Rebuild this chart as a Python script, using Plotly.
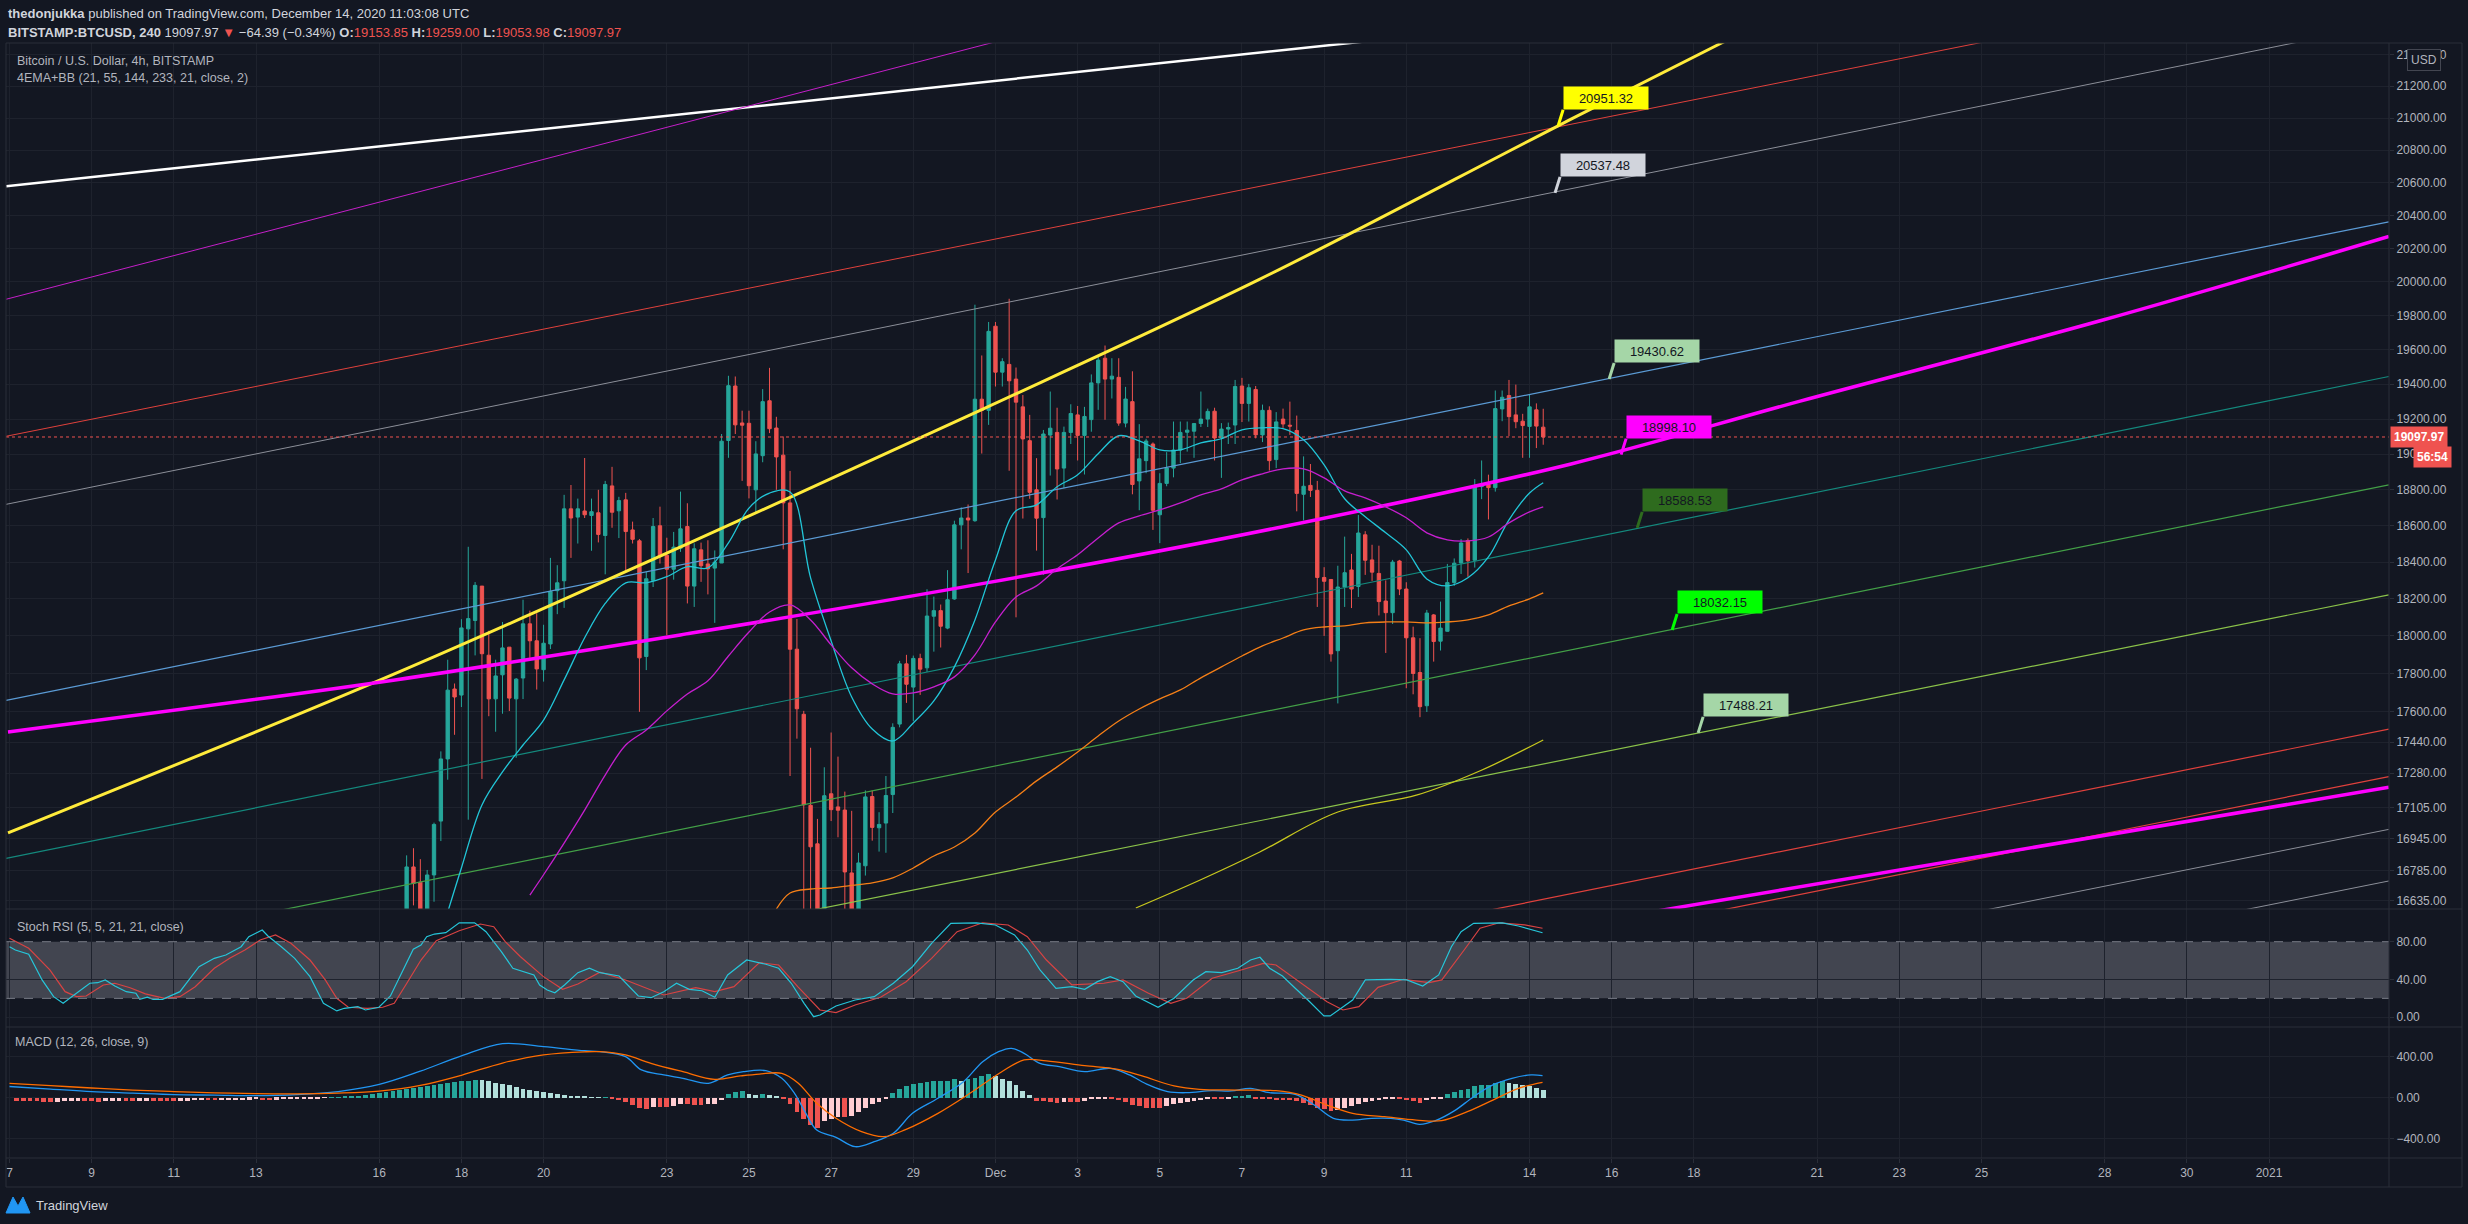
import numpy as np
import pandas as pd
import plotly.graph_objects as go

W, H = 2468, 1224
BG = "#131722"
GRID = "#1e222d"
BORDER = "#2a2e39"
TXT = "#b2b5be"
FONT = "Liberation Sans, Arial, sans-serif"
UP, DN = "#26a69a", "#ef5350"

def px(x):
    return x / W

def py(y):
    return 1 - y / H

MAIN = [py(909), py(43)]
STOCH = [py(1027), py(909)]
MACD = [py(1158), py(1027)]
XDOM = [px(6), px(2389)]

BASE = pd.Timestamp("2020-11-07")

def bar_time(k):
    return BASE + pd.to_timedelta(np.asarray(k, dtype=float) * 4, unit="h")

X_RANGE = ["2020-11-06 21:57", "2021-01-03 22:06"]

# ---------------- candles (4h, first bar 2020-11-16 16:00) ----------------
candle_start = "2020-11-16 16:00"
opens = [16560, 16804, 16728, 16560, 16764, 17035, 17353, 17718, 17686, 18038,
         18083, 18269, 17897, 17666, 17793, 17940, 17666, 17776, 18065, 17974,
         17820, 17957, 18244, 18298, 18694, 18648, 18682, 18657, 18672, 18546,
         18822, 18683, 18744, 18577, 18517, 17890, 18300, 18600, 18437, 18361,
         18476, 18596, 18269, 18467, 18390, 18367, 18395, 19078, 19390, 19178,
         19176, 18800, 18992, 19305, 19149, 18995, 18727, 17929, 17585, 17115,
         16920, 16450, 17174, 17107, 17091, 16774, 16550, 16810, 17160, 17001,
         17025, 17170, 17534, 17851, 17728, 17880, 17830, 18106, 18136, 18042,
         18199, 18605, 18643, 18628, 19314, 19250, 19738, 19470, 19515, 19430,
         19270, 19077, 18800, 18645, 19109, 19124, 18922, 19124, 19224, 19107,
         19197, 19408, 19551, 19430, 19440, 19177, 19300, 18850, 18964, 19058,
         18661, 18836, 18922, 19024, 19125, 19131, 19175, 19200, 19245, 19092,
         19143, 19166, 19390, 19290, 19370, 19110, 19250, 18970, 19200, 19165,
         19135, 18775, 18825, 18797, 18316, 18305, 17921, 18264, 18357, 18267,
         18550, 18412, 18338, 18188, 18125, 18406, 18253, 17990, 17805, 17630,
         18113, 17972, 18025, 18288, 18395, 18518, 18410, 18818, 18830, 18812,
         19258, 19335, 19224, 19188, 19158, 19253, 19153.85]
highs = [16862, 16898, 16843, 16789, 17027, 17392, 17873, 17747, 18090, 18484,
         18291, 18269, 18028, 17873, 18075, 17940, 17776, 18195, 18136, 18122,
         18060, 18423, 18383, 18772, 18827, 18751, 18979, 18751, 18800, 18850,
         18929, 18761, 18783, 18623, 18527, 18347, 18643, 18706, 18534, 18566,
         18790, 18725, 18503, 18507, 18520, 18464, 19115, 19449, 19445, 19248,
         19248, 19074, 19372, 19495, 19213, 19101, 18906, 18091, 17603, 17411,
         17046, 17310, 17490, 17365, 17185, 17087, 16875, 17191, 17191, 17080,
         17265, 17538, 17867, 17899, 17895, 17905, 18252, 18212, 18169, 18356,
         18628, 18702, 18718, 19865, 19567, 19763, 19763, 19551, 19900, 19497,
         19338, 19224, 18978, 19138, 19358, 19265, 19157, 19285, 19275, 19270,
         19457, 19560, 19625, 19551, 19551, 19385, 19475, 19171, 19088, 19067,
         18893, 19012, 19186, 19186, 19186, 19177, 19358, 19260, 19265, 19177,
         19180, 19425, 19437, 19402, 19390, 19283, 19273, 19240, 19260, 19300,
         19220, 18988, 18945, 18850, 18372, 18305, 18380, 18540, 18445, 18660,
         18570, 18495, 18490, 18300, 18412, 18412, 18290, 18050, 17988, 18140,
         18118, 18185, 18390, 18420, 18527, 18530, 18860, 18965, 18885, 19364,
         19364, 19425, 19398, 19230, 19340, 19290, 19259.00]
lows = [16450, 16613, 16480, 16500, 16631, 16934, 17246, 17478, 17623, 17042,
        17896, 17250, 17575, 17494, 17588, 17602, 17359, 17665, 17883, 17715,
        17757, 17930, 18117, 18151, 18423, 18502, 18643, 18462, 18508, 18333,
        18589, 18532, 18353, 18502, 17598, 17818, 18264, 18392, 18003, 18304,
        18456, 18175, 18156, 18292, 18224, 18070, 18395, 18980, 19115, 18850,
        18752, 18667, 18955, 19120, 18800, 18470, 17265, 17458, 16400, 16560,
        16300, 16200, 17035, 16953, 16560, 16400, 16450, 16761, 16936, 16881,
        16875, 17076, 17517, 17645, 17549, 17687, 17808, 17916, 17938, 18036,
        18195, 18470, 18340, 18622, 19004, 19167, 19387, 19387, 18907, 18100,
        18640, 18750, 18463, 18330, 18880, 18746, 18809, 19058, 18965, 18886,
        19128, 19253, 19196, 19318, 19162, 19153, 18775, 18686, 18893, 18577,
        18504, 18820, 18870, 18950, 19015, 18980, 19155, 19155, 18965, 18867,
        19058, 19058, 19183, 19186, 19090, 19069, 18908, 18922, 19150, 19110,
        18680, 18630, 18760, 18156, 18000, 17863, 17642, 18156, 18150, 18210,
        18330, 18297, 18110, 17909, 18064, 18220, 17722, 17690, 17570, 17597,
        17863, 17922, 18023, 18270, 18335, 18320, 18370, 18748, 18635, 18790,
        19188, 19103, 19148, 18980, 18980, 19035, 19053.98]
closes = [16804, 16722, 16560, 16764, 17018, 17353, 17712, 17676, 18043, 18093,
          18273, 17905, 17666, 17787, 17936, 17670, 17770, 18065, 17974, 17824,
          17961, 18240, 18287, 18694, 18643, 18694, 18661, 18678, 18552, 18830,
          18675, 18740, 18568, 18525, 17883, 18309, 18596, 18432, 18361, 18482,
          18583, 18269, 18473, 18380, 18363, 18400, 19074, 19392, 19167, 19165,
          18823, 19002, 19300, 19145, 18985, 18727, 17929, 17614, 17118, 16905,
          16500, 17164, 17093, 17090, 16779, 16550, 16824, 17158, 17003, 17018,
          17165, 17517, 17851, 17743, 17880, 17823, 18107, 18136, 18052, 18195,
          18605, 18643, 18632, 19314, 19250, 19708, 19470, 19531, 19420, 19297,
          19087, 18786, 18642, 19115, 19148, 18917, 19124, 19232, 19107, 19215,
          19408, 19540, 19430, 19447, 19177, 19315, 18830, 18974, 19075, 18686,
          18836, 18922, 19024, 19124, 19137, 19175, 19200, 19244, 19092, 19143,
          19152, 19387, 19290, 19380, 19110, 19250, 18964, 19184, 19172, 19160,
          18780, 18820, 18797, 18316, 18295, 17904, 18264, 18342, 18253, 18560,
          18410, 18345, 18185, 18125, 18400, 18253, 17990, 17800, 17625, 18123,
          17970, 18042, 18288, 18394, 18505, 18407, 18820, 18832, 18812, 19260,
          19325, 19214, 19185, 19163, 19270, 19160, 19097.97]
last_price = 19097.97

# ---------------- EMAs (k = 4h bars since 2020-11-07) ----------------
ema21_k = [64, 66, 69, 72, 75, 78, 81, 84, 87, 90, 93, 96, 99, 102, 105, 108, 111, 114,
           117, 120, 123, 126, 129, 132, 135, 138, 141, 144, 147, 150, 153, 156, 159,
           162, 165, 168, 171, 174, 177, 180, 183, 186, 189, 192, 195, 198, 201, 204,
           207, 210, 213, 216, 219, 222, 224]
ema21_v = [16580, 16799, 17117, 17286, 17425, 17555, 17766, 17990, 18175, 18287, 18287,
           18320, 18375, 18368, 18506, 18698, 18782, 18788, 18314, 17973, 17676, 17508,
           17446, 17540, 17655, 17835, 18086, 18412, 18683, 18716, 18817, 18884, 19003,
           19105, 19076, 19025, 19025, 19065, 19088, 19139, 19150, 19145, 19082, 18940,
           18750, 18650, 18561, 18467, 18308, 18270, 18314, 18428, 18633, 18782, 18840]
ema55_k = [76, 78, 81, 84, 87, 90, 93, 96, 99, 102, 105, 108, 111, 114, 117, 120, 123,
           126, 129, 132, 135, 138, 141, 144, 147, 150, 153, 156, 159, 162, 165, 168,
           171, 174, 177, 180, 183, 186, 189, 192, 195, 198, 201, 204, 207, 210, 213,
           216, 219, 222, 224]
ema55_v = [16664, 16765, 16924, 17091, 17270, 17425, 17503, 17603, 17692, 17761, 17893,
           18021, 18129, 18167, 18086, 17952, 17830, 17745, 17692, 17697, 17729, 17782,
           17899, 18075, 18210, 18270, 18363, 18440, 18533, 18616, 18655, 18688, 18727,
           18772, 18805, 18856, 18890, 18918, 18918, 18867, 18794, 18755, 18705, 18644,
           18561, 18522, 18516, 18538, 18616, 18677, 18705]
ema144_k = [112, 114, 117, 120, 123, 126, 129, 132, 135, 138, 141, 144, 147, 150, 153,
            156, 159, 162, 165, 168, 171, 174, 177, 180, 183, 186, 189, 192, 195, 198,
            201, 204, 207, 210, 213, 216, 219, 222, 224]
ema144_v = [16595, 16674, 16694, 16699, 16712, 16724, 16749, 16799, 16859, 16904, 16975,
            17081, 17157, 17240, 17312, 17389, 17472, 17550, 17613, 17666, 17713, 17777,
            17835, 17893, 17947, 17989, 18032, 18048, 18054, 18070, 18075, 18075, 18070,
            18075, 18086, 18113, 18162, 18200, 18232]
ema233_k = [164.5, 173.9, 182.6, 194, 205.6, 214.8, 224]
ema233_v = [16600, 16739, 16879, 17081, 17168, 17292, 17451]

# ---------------- drawn trend lines (anchor time, anchor price) ----------------
T_L, T_R = "2020-11-06 22:00", "2021-01-03 22:00"
lines = [
    ("white", [T_L, T_R], [20578, 22193], "#ffffff", 2.5),
    ("mag_top", [T_L, T_R], [19897, 23930], "#c51fc9", 1),
    ("red_top", [T_L, T_R], [19102, 22003], "#e0413c", 1),
    ("gray", [T_L, T_R], [18719, 21597], "#8c8f99", 1),
    ("blue", [T_L, T_R], [17658, 20361], "#5b9bd5", 1.2),
    ("teal", [T_L, T_R], [16847, 19445], "#14897d", 1.2),
    ("greenA", [T_L, T_R], [16318, 18828], "#43a047", 1.2),
    ("greenB", [T_L, T_R], [15812, 18221], "#8bc34a", 1.2),
    ("red_low1", [T_L, T_R], [15178, 17508], "#e0413c", 1.2),
    ("red_low2", [T_L, T_R], [14978, 17262], "#e0413c", 1.2),
    ("mag_low", [T_L, T_R], [15263, 17207], "#ff00ff", 3.5),
    ("gray_low1", [T_L, T_R], [14746, 16993], "#8c8f99", 1),
    ("gray_low2", [T_L, T_R], [14520, 16734], "#8c8f99", 1),
]
yellow_t = ["2020-11-06 23:07", "2020-11-16 09:12", "2020-11-23 13:36", "2020-11-30 17:54",
            "2020-12-07 09:36", "2020-12-14 16:42", "2020-12-18 15:18", "2020-12-19 14:42"]
yellow_p = [16975, 17799, 18507, 19263, 20012, 20951.32, 21469, 21603]
magenta_t = ["2020-11-06 23:07", "2020-11-16 09:12", "2020-11-23 13:36", "2020-11-30 17:54",
             "2020-12-07 22:18", "2020-12-14 23:42", "2020-12-20 14:06", "2020-12-27 21:24",
             "2021-01-03 22:00"]
magenta_p = [17493, 17766, 18014, 18285, 18592, 18944, 19303, 19770, 20272]

callouts = [
    ("2020-12-14 16:42", 20951.32, "#ffff00", "#131722"),
    ("2020-12-14 14:54", 20537.48, "#d1d4dc", "#131722"),
    ("2020-12-15 22:30", 19430.62, "#a5d6a7", "#131722"),
    ("2020-12-16 05:30", 18998.10, "#ff00ff", "#131722"),
    ("2020-12-16 14:54", 18588.53, "#2e6b1e", "#131722"),
    ("2020-12-17 11:18", 18032.15, "#00ff00", "#131722"),
    ("2020-12-18 02:30", 17488.21, "#a5d6a7", "#131722"),
]

# ---------------- Stoch RSI ----------------
stk_k = [0, 0.85, 2.8, 4.76, 6.44, 7.83, 9.23, 11.74, 12.87, 13.98, 15.38, 17.06, 18.46,
         19.02, 20.13, 20.97, 22.36, 24.89, 27.68, 29.91, 31.59, 33.83, 34.95, 36.91,
         37.74, 39.7, 41.65, 43.89, 45.85, 47.8, 48.91, 50.87, 51.99, 53.95, 55.63, 57.3,
         58.97, 60.1, 60.93, 62.06, 63.72, 65.68, 67.93, 69.59, 71.83, 73.51, 75.19,
         76.59, 77.42, 78.54, 79.65, 81.06, 83.01, 84.69, 86.24, 89.03, 91.84, 93.69,
         95.56, 97.42, 99.28, 101.14, 103.01, 104.88, 107.67, 110.46, 112.33, 114.18,
         116.05, 117.44, 118.37, 120.71, 123.5, 126.29, 129.09, 131.88, 134.67, 137.48,
         141.2, 143.99, 146.78, 148.65, 150.5, 152.84, 155.16, 157.03, 158.89, 160.76,
         162.63, 164.48, 167.74, 170.08, 172.87, 174.73, 177.06, 179.39, 181.25, 182.63,
         184.04, 185.91, 187.78, 189.63, 191.97, 192.89, 196.16, 198.01, 201.74, 204.07,
         206.4, 208.73, 210.59, 212, 213.84, 216.17, 218.04, 220.37, 223.9]
stk_v = [74.7, 71.2, 66.7, 39.5, 21.8, 14.8, 22.5, 36, 36.6, 39.5, 33.1, 27.1, 25.4, 19,
         21.2, 19, 19, 27.1, 53.5, 62.4, 65.9, 74.7, 85.3, 92.4, 86, 74.7, 62.4, 43, 14.8,
         6.7, 9.5, 11.2, 7.7, 10.6, 22.5, 46.6, 72, 76.5, 85.3, 88.1, 89.5, 100, 100, 90.6,
         69.4, 51.9, 48.3, 44.8, 34.2, 28.9, 26, 34.2, 47.2, 51.9, 47.2, 43.7, 22.5, 20.7,
         27.1, 36, 29.6, 28.1, 21.2, 44.8, 60.6, 56.1, 51.9, 36, 14.8, 0.6, 2.4, 12, 18.3,
         21.8, 36, 53.5, 78.3, 99.4, 100, 97.7, 87.1, 71.2, 50.1, 30.7, 32.4, 29.6, 37.7,
         43, 37.7, 22.5, 10.6, 20.1, 39.5, 48.3, 47.2, 51.9, 60.6, 63.5, 51.9, 43.7, 30.7,
         18.3, 1.4, 1.4, 18.3, 39.5, 40.2, 39.5, 33.1, 44.8, 74.7, 90.6, 99.4, 99.4, 100,
         96.6, 89.5]
std_k = [0, 2.8, 5.89, 8.12, 9.79, 11.19, 13.7, 15.38, 17.61, 19.85, 22.65, 24.89, 27.12,
         29.91, 32.15, 34.38, 36.61, 38.85, 41.1, 43.89, 46.12, 47.8, 49.48, 52.27, 54.51,
         56.19, 57.87, 60.1, 62.33, 65.68, 68.76, 70.72, 72.4, 74.63, 77.98, 80.78, 83.01,
         86.24, 89.97, 95.56, 100.22, 103.01, 105.81, 109.52, 112.33, 115.12, 118.37,
         120.71, 123.5, 127.22, 130.95, 134.67, 138.4, 142.13, 145.86, 148.65, 151.44,
         155.16, 159.82, 162.63, 166.35, 169.61, 171.93, 175.65, 179.39, 183.11, 184.97,
         188.69, 192.42, 194.75, 197.08, 199.87, 203.6, 207.33, 209.19, 212.45, 214.77,
         217.57, 221.29, 223.9]
std_v = [83.6, 73, 50.1, 27.1, 21.8, 22.5, 34.2, 36, 31.3, 24.7, 20.1, 21.8, 32.4, 51.9,
         62.4, 71.2, 81.8, 87.1, 78.3, 60.6, 39.5, 20.1, 10.6, 9.5, 10.6, 14.8, 34.2, 60.6,
         81.1, 91.6, 98.7, 95.9, 80, 64.1, 43, 29.6, 35.2, 47.8, 39.5, 23.6, 31.3, 27.1,
         32.4, 57.8, 55.3, 32.4, 7.7, 4.9, 13, 21.2, 37.7, 62.4, 90.6, 100, 97.7, 85.3,
         60.6, 34.2, 36, 39.5, 25.4, 14.8, 20.1, 41.3, 49, 57.1, 55.3, 36, 16.5, 7.7, 11.2,
         31.7, 40.2, 36.6, 39.5, 71.2, 94.2, 100, 97.7, 94.2]

# ---------------- MACD ----------------
macd_k = [0, 6, 12, 18, 24, 30, 36, 42, 48, 54, 60, 66, 72, 78, 84, 86.24, 89.97, 92.3,
          95.56, 98.35, 102.07, 104.88, 107.2, 110.46, 112.79, 114.65, 116.05, 117.9,
          120.71, 123.5, 126.29, 129.09, 131.88, 135.6, 139.33, 142.13, 144.45, 146.33,
          148.18, 150.5, 153.31, 157.03, 160.76, 163.55, 166.35, 169.14, 171.93, 175.65,
          178.46, 181.25, 184.04, 187.78, 190.57, 193.36, 196.16, 198.95, 201.74, 203.6,
          205.93, 208.26, 211.06, 213.84, 216.65, 219.44, 222.23, 223.9]
macd_v = [110, 85, 60, 45, 30, 25, 20, 30, 60, 130, 260, 410, 530, 500, 460, 451, 402,
          272, 223, 190, 141, 223, 255, 265, 190, 43, -121, -317, -388, -480, -431, -349,
          -153, -6, 157, 353, 451, 484, 435, 337, 304, 255, 288, 223, 125, 59, 49, 69, 66,
          92, 49, 33, -72, -202, -219, -202, -202, -219, -261, -225, -127, 10, 125, 190,
          223, 216]
sig_k = [0, 6, 12, 18, 24, 30, 36, 42, 48, 54, 60, 66, 72, 78, 84, 86.24, 89.97, 93.69,
         98.35, 103.01, 106.73, 109.52, 112.79, 115.12, 117.9, 120.71, 124.44, 127.69,
         130.95, 135.6, 140.27, 144.92, 148.18, 151.44, 157.03, 161.69, 165.42, 170.08,
         173.8, 179.39, 184.97, 188.69, 192.42, 196.16, 200.81, 205.46, 209.19, 212.92,
         216.65, 220.37, 223.9]
sig_v = [140, 118, 95, 75, 60, 48, 40, 38, 45, 65, 120, 220, 340, 420, 450, 451, 419,
         337, 255, 180, 213, 232, 239, 147, -55, -202, -333, -382, -310, -153, 43, 255,
         370, 360, 314, 281, 213, 115, 82, 75, 69, 26, -72, -153, -186, -219, -225, -137,
         -23, 92, 151]
hist_v = [-30, -32, -35, -36, -38, -40, -38, -36, -34, -33,
          -35, -37, -38, -36, -34, -32, -33, -35, -32, -30,
          -30, -31, -32, -33, -30, -28, -25, -23, -24, -26,
          -25, -24, -22, -20, -18, -17, -20, -22, -18, -15,
          -12, -10, -8, -6, -4, -2, 2, 5, 8, 12,
          18, 25, 35, 45, 55, 65, 75, 85, 95, 105,
          115, 125, 135, 145, 155, 162, 168, 172, 170, 160,
          148, 135, 120, 105, 90, 78, 66, 55, 45, 36,
          28, 20, 14, 9, 5, 3,
          3, -16, -26, -42, -72, -98, -108, -88, -88, -88,
          -82, -60, -65, -72, -72, -65, -59, -20, 39, 59,
          65, 33, 23, 39, 26, 7, -16, -65, -137, -213,
          -268, -294, -229, -206, -190, -190, -180, -137, -98, -59,
          -39, -16, 49, 82, 114, 131, 147, 157, 164, 164,
          164, 180, 164, 180, 196, 213, 229, 213, 180, 164,
          124, 65, 26, -33, -33, -39, -56, -46, -46, -46,
          -33, -16, -10, -7, -16, -26, -39, -72, -82, -98,
          -98, -98, -82, -59, -49, -39, -33, -26, -16, -16,
          -16, -10, 10, 16, 26, -7, -10, -16, -26, -26,
          -26, -33, -49, -72, -98, -114, -131, -121, -98, -82,
          -59, -39, -33, -26, -16, -10, -16, -26, -33, -49,
          -26, -16, -7, 33, 56, 72, 82, 114, 121, 124,
          147, 164, 147, 137, 124, 114, 98, 72]
hist_first_k = 1

# ---------------- axis ticks ----------------
price_ticks = [16635, 16785, 16945, 17105, 17280, 17440, 17600, 17800, 18000, 18200, 18400,
               18600, 18800, 19000, 19200, 19400, 19600, 19800, 20000, 20200, 20400, 20600,
               20800, 21000, 21200, 21400]
date_ticks = ["2020-11-07", "2020-11-09", "2020-11-11", "2020-11-13", "2020-11-16",
              "2020-11-18", "2020-11-20", "2020-11-23", "2020-11-25", "2020-11-27",
              "2020-11-29", "2020-12-01", "2020-12-03", "2020-12-05", "2020-12-07",
              "2020-12-09", "2020-12-11", "2020-12-14", "2020-12-16", "2020-12-18",
              "2020-12-21", "2020-12-23", "2020-12-25", "2020-12-28", "2020-12-30",
              "2021-01-01"]
date_labels = ["7", "9", "11", "13", "16", "18", "20", "23", "25", "27", "29", "Dec", "3",
               "5", "7", "9", "11", "14", "16", "18", "21", "23", "25", "28", "30", "2021"]

# ======================= figure =======================
fig = go.Figure()

times = pd.date_range(candle_start, periods=len(opens), freq="4h")

for name, tt, pp, col, wd in lines:
    fig.add_trace(go.Scatter(x=pd.to_datetime(tt), y=pp, mode="lines",
                             line=dict(color=col, width=wd), xaxis="x", yaxis="y",
                             hoverinfo="skip"))
fig.add_trace(go.Scatter(x=pd.to_datetime(yellow_t), y=yellow_p, mode="lines",
                         line=dict(color="#ffeb3b", width=3, shape="spline"),
                         xaxis="x", yaxis="y", hoverinfo="skip"))
fig.add_trace(go.Scatter(x=pd.to_datetime(magenta_t), y=magenta_p, mode="lines",
                         line=dict(color="#ff00ff", width=3.5, shape="spline"),
                         xaxis="x", yaxis="y", hoverinfo="skip"))

for kk, vv, col in [(ema21_k, ema21_v, "#22c6d8"), (ema55_k, ema55_v, "#c61fcf"),
                    (ema144_k, ema144_v, "#f57f17"), (ema233_k, ema233_v, "#c8c81e")]:
    fig.add_trace(go.Scatter(x=bar_time(kk), y=vv, mode="lines",
                             line=dict(color=col, width=1.3, shape="spline"),
                             xaxis="x", yaxis="y", hoverinfo="skip"))

fig.add_trace(go.Candlestick(
    x=times, open=opens, high=highs, low=lows, close=closes,
    increasing=dict(line=dict(color=UP, width=1), fillcolor=UP),
    decreasing=dict(line=dict(color=DN, width=1), fillcolor=DN),
    whiskerwidth=0, xaxis="x", yaxis="y", hoverinfo="skip"))

fig.add_trace(go.Scatter(x=bar_time(std_k), y=std_v, mode="lines",
                         line=dict(color="#d84343", width=1.2),
                         xaxis="x2", yaxis="y2", hoverinfo="skip"))
fig.add_trace(go.Scatter(x=bar_time(stk_k), y=stk_v, mode="lines",
                         line=dict(color="#26c6da", width=1.2),
                         xaxis="x2", yaxis="y2", hoverinfo="skip"))

hist_colors = []
for i, v in enumerate(hist_v):
    prev = hist_v[i - 1] if i > 0 else v
    if v >= 0:
        hist_colors.append(UP if v >= prev else "#b2dfdb")
    else:
        hist_colors.append(DN if v <= prev else "#ffcdd2")
hist_k = np.arange(len(hist_v)) + hist_first_k
fig.add_trace(go.Bar(x=bar_time(hist_k), y=hist_v, marker=dict(color=hist_colors, line=dict(width=0)),
                     width=4 * 3600 * 1000 * 0.7, xaxis="x3", yaxis="y3", hoverinfo="skip"))
fig.add_trace(go.Scatter(x=bar_time(macd_k), y=macd_v, mode="lines",
                         line=dict(color="#2196f3", width=1.3, shape="spline"),
                         xaxis="x3", yaxis="y3", hoverinfo="skip"))
fig.add_trace(go.Scatter(x=bar_time(sig_k), y=sig_v, mode="lines",
                         line=dict(color="#ff6d00", width=1.3, shape="spline"),
                         xaxis="x3", yaxis="y3", hoverinfo="skip"))

axis_common = dict(showline=False, zeroline=False, gridcolor=GRID, gridwidth=1,
                   tickfont=dict(family=FONT, size=12, color=TXT))
xcommon = dict(axis_common, type="date", range=X_RANGE, domain=XDOM,
               tickmode="array", tickvals=date_ticks, ticktext=date_labels, showgrid=True)

fig.update_layout(
    width=W, height=H, margin=dict(l=0, r=0, t=0, b=0),
    paper_bgcolor=BG, plot_bgcolor=BG, showlegend=False, bargap=0,
    font=dict(family=FONT, color=TXT),
    xaxis=dict(xcommon, anchor="y", showticklabels=False, rangeslider=dict(visible=False)),
    xaxis2=dict(xcommon, anchor="y2", showticklabels=False, matches="x"),
    xaxis3=dict(xcommon, anchor="y3", showticklabels=True, ticks="outside", ticklen=4,
                tickcolor=BORDER, matches="x"),
    yaxis=dict(axis_common, type="log", domain=MAIN, side="right", anchor="x",
               range=list(np.log10([16595, 21474])), tickmode="array",
               tickvals=price_ticks, ticktext=[f"{v:.2f}" for v in price_ticks],
               ticks="outside", ticklen=4, tickcolor=BORDER),
    yaxis2=dict(axis_common, domain=STOCH, side="right", anchor="x2", range=[-10.3, 114.6],
                tickmode="array", tickvals=[0, 40, 80], ticktext=["0.00", "40.00", "80.00"],
                ticks="outside", ticklen=4, tickcolor=BORDER),
    yaxis3=dict(axis_common, domain=MACD, side="right", anchor="x3", range=[-591, 693],
                tickmode="array", tickvals=[-400, 0, 400],
                ticktext=["\u2212400.00", "0.00", "400.00"],
                ticks="outside", ticklen=4, tickcolor=BORDER),
)

shapes = []
shapes.append(dict(type="rect", xref="x2 domain", yref="y2", x0=0, x1=1, y0=20, y1=80,
                   fillcolor="rgba(150,152,164,0.36)", line=dict(width=0), layer="below"))
for lvl in (20, 80):
    shapes.append(dict(type="line", xref="x2 domain", yref="y2", x0=0, x1=1, y0=lvl, y1=lvl,
                       line=dict(color="#787b86", width=1, dash="dash")))
shapes.append(dict(type="line", xref="x domain", yref="y", x0=0, x1=1,
                   y0=last_price, y1=last_price, line=dict(color=DN, width=1, dash="dot")))
for yy in (43, 909, 1027, 1158, 1187):
    shapes.append(dict(type="line", xref="paper", yref="paper", x0=px(6), x1=px(2462),
                       y0=py(yy), y1=py(yy), line=dict(color=BORDER, width=1)))
for xx in (6, 2389, 2462):
    shapes.append(dict(type="line", xref="paper", yref="paper", x0=px(xx), x1=px(xx),
                       y0=py(43), y1=py(1187), line=dict(color=BORDER, width=1)))
shapes.append(dict(type="path", xref="paper", yref="paper",
                   path=f"M {px(6)},{py(1213)} L {px(13)},{py(1197)} L {px(18)},{py(1206)} "
                        f"L {px(23)},{py(1197)} L {px(30)},{py(1213)} Z",
                   fillcolor="#2196f3", line=dict(color="#2196f3", width=1)))
fig.update_layout(shapes=shapes)

ann = []
def text(x, y, s, size=12.5, color=TXT, anchor="left", bold=False, **kw):
    ann.append(dict(xref="paper", yref="paper", x=px(x), y=py(y), text=(f"<b>{s}</b>" if bold else s),
                    showarrow=False, xanchor=anchor, yanchor="middle",
                    font=dict(family=FONT, size=size, color=color), **kw))

text(6, 14, "<b>thedonjukka</b> published on TradingView.com, December 14, 2020 11:03:08 UTC",
     size=13, color="#d1d4dc")
text(6, 32, "<b>BITSTAMP:BTCUSD, 240</b> 19097.97 <span style='color:#ef5350'>\u25bc</span> "
     "\u221264.39 (\u22120.34%) <b>O:</b><span style='color:#ef5350'>19153.85</span> "
     "<b>H:</b><span style='color:#ef5350'>19259.00</span> "
     "<b>L:</b><span style='color:#ef5350'>19053.98</span> "
     "<b>C:</b><span style='color:#ef5350'>19097.97</span>", size=13, color="#d1d4dc")
text(15, 61, "Bitcoin / U.S. Dollar, 4h, BITSTAMP", size=12.5)
text(15, 78, "4EMA+BB (21, 55, 144, 233, 21, close, 2)", size=12.5)
text(15, 927, "Stoch RSI (5, 5, 21, 21, close)", size=12.5)
text(13, 1042, "MACD (12, 26, close, 9)", size=12.5)
text(34, 1205, "TradingView", size=13, color="#d1d4dc")

ann.append(dict(xref="paper", yref="paper", x=px(2424), y=py(60), text="USD", showarrow=False,
                xanchor="center", yanchor="middle", bgcolor=BG, bordercolor="#434651",
                borderwidth=1, borderpad=3, font=dict(family=FONT, size=12, color=TXT)))
ann.append(dict(xref="paper", yref="y", x=px(2390), y=np.log10(last_price), text=f"<b>{last_price:.2f}</b>",
                showarrow=False, xanchor="left", yanchor="middle", bgcolor=DN, borderpad=3,
                font=dict(family=FONT, size=12, color="#ffffff")))
ann.append(dict(xref="paper", yref="paper", x=px(2452), y=py(457), text="<b>56:54</b>",
                showarrow=False, xanchor="right", yanchor="middle", bgcolor=DN, borderpad=3,
                font=dict(family=FONT, size=12, color="#ffffff")))
for tt, pr, bg, fg in callouts:
    ann.append(dict(xref="x", yref="y", x=pd.Timestamp(tt), y=np.log10(pr), text=f"{pr:.2f}",
                    showarrow=True, arrowhead=0, arrowwidth=3, arrowcolor=bg, ax=5, ay=-16,
                    xanchor="left", yanchor="bottom", bgcolor=bg, borderpad=2,
                    width=80, height=18, align="center",
                    font=dict(family=FONT, size=13, color=fg)))
fig.update_layout(annotations=ann)

fig.write_html("out.html")
